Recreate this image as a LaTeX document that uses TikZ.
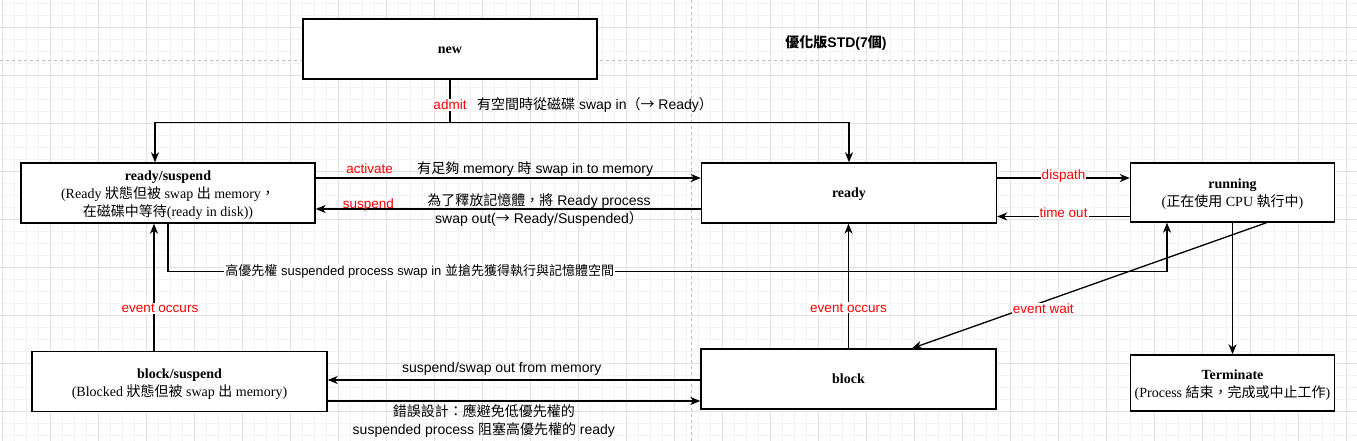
\documentclass[tikz,border=0pt]{standalone}
\usepackage{fontspec}
\setmainfont{Liberation Serif}
\newfontfamily\lsans{Liberation Sans}
\newfontfamily\cjk{Noto Sans CJK TC}
\newcommand\zh[1]{{\cjk #1}}
\newcommand\stext[2][0pt]{\raisebox{-#1}[\height][\depth]{\begin{tabular}{@{}c@{}}#2\end{tabular}}}
\usetikzlibrary{arrows.meta}
\definecolor{gridminor}{HTML}{F3F3F3}
\definecolor{gridmajor}{HTML}{E2E2E2}
\definecolor{pagebreak}{HTML}{BDBDBD}
\definecolor{lblred}{HTML}{FF0000}
\tikzset{
  state/.style={draw=black, line width=1.4pt, fill=white, inner sep=0pt,
    font=\fontsize{14}{18}\selectfont},
  conn/.style={line width=1.3pt, draw=black},
  arr/.style={conn, -{Stealth[length=10pt,width=8pt,inset=3pt]}},
  lbl/.style={font=\lsans\fontsize{14}{18}\selectfont, inner sep=1pt, text=black},
  redlbl/.style={font=\lsans\fontsize{13.5}{17}\selectfont, inner sep=1pt, text=lblred},
  bg/.style={fill=white},
}
\begin{document}
\begin{tikzpicture}[x=1pt,y=-1pt]
\useasboundingbox (0,0) rectangle (1357,441);
\fill[white] (0,0) rectangle (1357,441);
% grid
\foreach \x in {2,14,...,1358} \draw[gridminor, line width=0.7pt] (\x,0) -- (\x,441);
\foreach \y in {3,15,...,441} \draw[gridminor, line width=0.7pt] (0,\y) -- (1357,\y);
\foreach \x in {2,50,...,1358} \draw[gridmajor, line width=0.8pt] (\x,0) -- (\x,441);
\foreach \y in {27,75,...,441} \draw[gridmajor, line width=0.8pt] (0,\y) -- (1357,\y);
\draw[pagebreak, line width=0.8pt, dash pattern=on 3pt off 3pt] (0,60) -- (1357,60);
\draw[pagebreak, line width=0.8pt, dash pattern=on 3pt off 3pt] (691,0) -- (691,441);

% states
\node[state, minimum width=294pt, minimum height=60pt] (new) at (450,49) {\stext[1pt]{\textbf{new}}};
\node[state, minimum width=294pt, minimum height=60pt] (rs) at (168,193)
  {\stext[2pt]{\textbf{ready/suspend}\\(Ready \zh{狀態但被} swap \zh{出} memory\zh{，}\\\zh{在磁碟中等待}(ready in disk))}};
\node[state, minimum width=295pt, minimum height=60pt] (ready) at (849,193) {\stext[1pt]{\textbf{ready}}};
\node[state, minimum width=204pt, minimum height=59pt] (running) at (1232.5,192.5)
  {\stext[1.5pt]{\textbf{running}\\(\zh{正在使用} CPU \zh{執行中})}};
\node[state, minimum width=295pt, minimum height=60pt] (bs) at (179.5,381.5)
  {\stext[2.5pt]{\textbf{block/suspend}\\(Blocked \zh{狀態但被} swap \zh{出} memory)}};
\node[state, minimum width=295pt, minimum height=60pt] (block) at (848.5,379) {\stext[1pt]{\textbf{block}}};
\node[state, minimum width=204pt, minimum height=56pt] (term) at (1232.5,383)
  {\stext[1.5pt]{\textbf{Terminate}\\(Process \zh{結束，完成或中止工作})}};

\node[font=\lsans\bfseries\fontsize{14}{18}\selectfont, inner sep=0pt] (title) at (836,43)
  {\zh{優化版}STD(7\zh{個})};

% admit
\coordinate (split) at ([yshift=-43pt]new.south);
\draw[conn] (new.south) -- node[redlbl,bg,pos=0.58]{admit} (split);
\node[lbl, anchor=west] (admittxt) at ([xshift=26pt,yshift=18pt]split)
  {\zh{有空間時從磁碟} swap in\zh{（→} Ready\zh{）}};
\draw[arr] (split) -| ([xshift=-13pt]rs.north);
\draw[arr] (split) -| (ready.north);

% activate
\draw[arr] ([yshift=15pt]rs.east) --
  node[redlbl,pos=0.14,yshift=9pt]{activate}
  node[lbl,pos=0.57,yshift=9pt]{\zh{有足夠} memory \zh{時} swap in to memory}
  ([yshift=15pt]ready.west);

% suspend
\draw[arr] ([yshift=-16pt]ready.west) --
  node[redlbl,pos=0.863,yshift=4pt]{suspend}
  node[lbl,pos=0.42]{\stext[1.5pt]{\zh{為了釋放記憶體，將} Ready process\\swap out(\zh{→} Ready/Suspended\zh{）}}}
  ([yshift=-16pt]rs.east);

% dispath
\coordinate (dp) at ([yshift=15pt]ready.east);
\draw[arr] (dp) -- node[redlbl,bg,midway,yshift=2pt]{dispath} (dp -| running.west);

% time out
\coordinate (to) at ([yshift=-24pt]running.west);
\draw[arr] (to) -- node[redlbl,bg,midway,yshift=4pt]{time out} (to -| ready.east);

% high priority swap in
\coordinate (hpEnd) at ([xshift=-65.5pt]running.south);
\draw[arr] (rs.south) -- ++(0,48) coordinate (hpA) --
  node[lbl,bg,pos=0.252,font=\lsans\fontsize{13}{17}\selectfont]{\zh{高優先權} suspended process swap in \zh{並搶先獲得執行與記憶體空間}}
  (hpA -| hpEnd) -- (hpEnd);

% event occurs (left)
\coordinate (eoL) at ([xshift=-25.5pt]bs.north);
\draw[arr] (eoL) -- node[redlbl,bg,pos=0.336,xshift=6pt]{event occurs} (eoL |- rs.south);

% event occurs (right)
\draw[arr] (block.north) -- node[redlbl,bg,pos=0.325]{event occurs} (block.north |- ready.south);

% event wait
\draw[arr] ([xshift=34pt]running.south) --
  node[redlbl,bg,pos=0.63,yshift=-7pt]{event wait} ([xshift=63.5pt]block.north);

% terminate
\draw[arr] (running.south) -- (term.north);

% suspend/swap out from memory
\coordinate (sw) at ([yshift=-1pt]block.west);
\draw[arr] (sw) -- node[lbl,pos=0.533,yshift=11.5pt]{suspend/swap out from memory} (sw -| bs.east);

% wrong design
\coordinate (er) at ([yshift=-19.5pt]bs.east);
\draw[arr] (er) --
  node[lbl,pos=0.419,yshift=-20.5pt]{\stext[0.5pt]{\zh{錯誤設計：應避免低優先權的}\\suspended process \zh{阻塞高優先權的} ready}}
  (er -| block.west);
\end{tikzpicture}
\end{document}
